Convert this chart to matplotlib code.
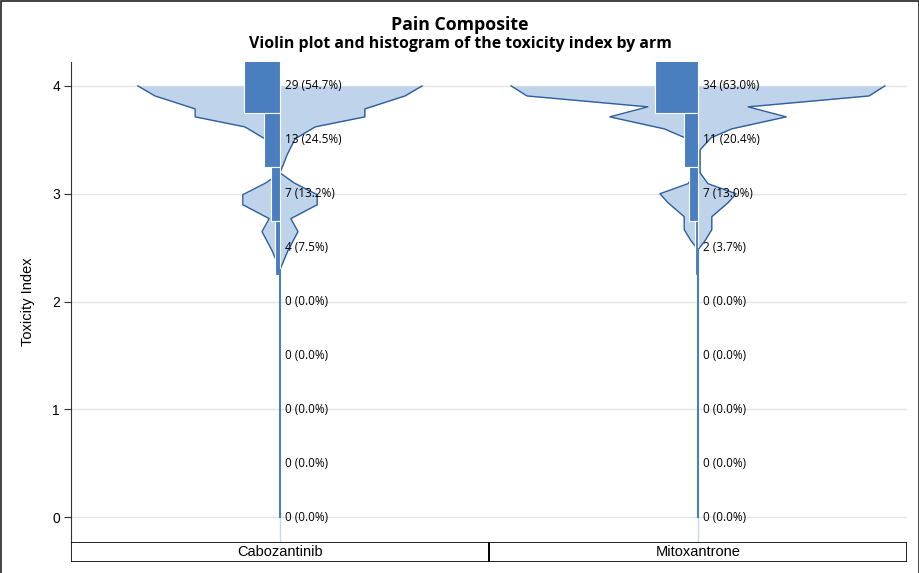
import numpy as np
import matplotlib
matplotlib.use("Agg")
import matplotlib.pyplot as plt
from matplotlib.patches import Rectangle

# data
arms = ["Cabozantinib", "Mitoxantrone"]
bin_centers = [4, 3.5, 3, 2.5, 2, 1.5, 1, 0.5, 0]
cabo_counts = [29, 13, 7, 4, 0, 0, 0, 0, 0]
cabo_pct = [54.7, 24.5, 13.2, 7.5, 0.0, 0.0, 0.0, 0.0, 0.0]
mito_counts = [34, 11, 7, 2, 0, 0, 0, 0, 0]
mito_pct = [63.0, 20.4, 13.0, 3.7, 0.0, 0.0, 0.0, 0.0, 0.0]

# violin outline (half width at each y)
cabo_violin_y = [4.00, 3.907, 3.787, 3.713, 3.620, 3.509, 3.361, 3.194, 3.102, 2.991, 2.898, 2.769, 2.648, 2.472, 2.296]
cabo_violin_w = [0.340, 0.299, 0.203, 0.203, 0.084, 0.036, 0.017, 0.0, 0.033, 0.089, 0.089, 0.026, 0.043, 0.019, 0.0]
mito_violin_y = [4.00, 3.907, 3.806, 3.713, 3.602, 3.519, 3.407, 3.194, 3.093, 3.000, 2.917, 2.787, 2.667, 2.565, 2.491]
mito_violin_w = [0.447, 0.409, 0.120, 0.211, 0.081, 0.031, 0.005, 0.005, 0.024, 0.091, 0.072, 0.033, 0.033, 0.017, 0.002]
data_min = [0, 0]

bar_col = "#4a7ebf"
fill_col = "#bfd3ea"
edge_col = "#2d5e9e"

fig = plt.figure(figsize=(9.2, 5.73), dpi=100)
ax = fig.add_axes([71/920, 1-542/573, 836/920, 480/573])

counts_all = [cabo_counts, mito_counts]
pct_all = [cabo_pct, mito_pct]
vy_all = [cabo_violin_y, mito_violin_y]
vw_all = [cabo_violin_w, mito_violin_w]
scale = 0.003  # bar width per count

for i in range(len(arms)):
    vy = np.array(vy_all[i])
    vw = np.array(vw_all[i])
    ax.fill_betweenx(vy, i - vw, i + vw, color=fill_col, lw=0, zorder=2)
    ax.plot(i - vw, vy, color=edge_col, lw=1, zorder=3)
    ax.plot(i + vw, vy, color=edge_col, lw=1, zorder=3)
    # thin tail down to the minimum
    ax.plot([i, i], [data_min[i], vy.min()], color=bar_col, lw=1.5, zorder=5)
    ax.plot([i, i], [-0.25, data_min[i]], color="#c6d8ee", lw=1, zorder=1)
    cnt = np.array(counts_all[i])
    yc_arr = np.array(bin_centers)
    keep = cnt > 0
    ax.barh(yc_arr[keep], -cnt[keep] * scale, height=0.5, left=i, color=bar_col,
            edgecolor="white", linewidth=0.8, zorder=4)
    for yc, c, p in zip(bin_centers, counts_all[i], pct_all[i]):
        ax.text(i + 0.013, yc, f"{c} ({p:.1f}%)", fontsize=8.5, va="center",
                ha="left", color="black", family="Open Sans", zorder=6)

ax.set_xlim(-0.5, 1.5)
ax.set_ylim(-0.231, 4.222)
ax.set_yticks([0, 1, 2, 3, 4])
ax.set_xticks([])
ax.yaxis.grid(True, color="#e4e4e4", lw=1)
ax.set_axisbelow(True)
for s in ["top", "right", "bottom"]:
    ax.spines[s].set_visible(False)
ax.spines["left"].set_color("#333333")
ax.tick_params(axis="y", length=5, color="#333333", labelsize=10, pad=3)
for lab in ax.get_yticklabels():
    lab.set_family("Liberation Sans")
ax.set_ylabel("Toxicity Index", fontsize=10.5, family="Liberation Sans", labelpad=12)

# category strip under the plot
sax = fig.add_axes([71/920, 1-562/573, 836/920, 20/573])
sax.set_xlim(-0.5, 1.5)
sax.set_ylim(0, 1)
sax.axis("off")
for i, name in enumerate(arms):
    sax.add_patch(Rectangle((i - 0.5, 0), 1, 1, fill=False, edgecolor="black", lw=1.2))
    sax.text(i, 0.5, name, ha="center", va="center", fontsize=10.5, family="Liberation Sans")

fig.text(0.5, 1-29.5/573, "Pain Composite", ha="center", va="baseline",
         fontsize=12.8, fontweight="bold", family="Open Sans")
fig.text(0.5, 1-48.5/573, "Violin plot and histogram of the toxicity index by arm",
         ha="center", va="baseline", fontsize=11.4, fontweight="bold", family="Open Sans")

# outer frame
fig.patches.append(Rectangle((1/920, -0.01), 918/920, 1 - 1/573 + 0.01, transform=fig.transFigure,
                             fill=False, edgecolor="#222222", lw=1.2))

fig.savefig("out.png", dpi=100)
